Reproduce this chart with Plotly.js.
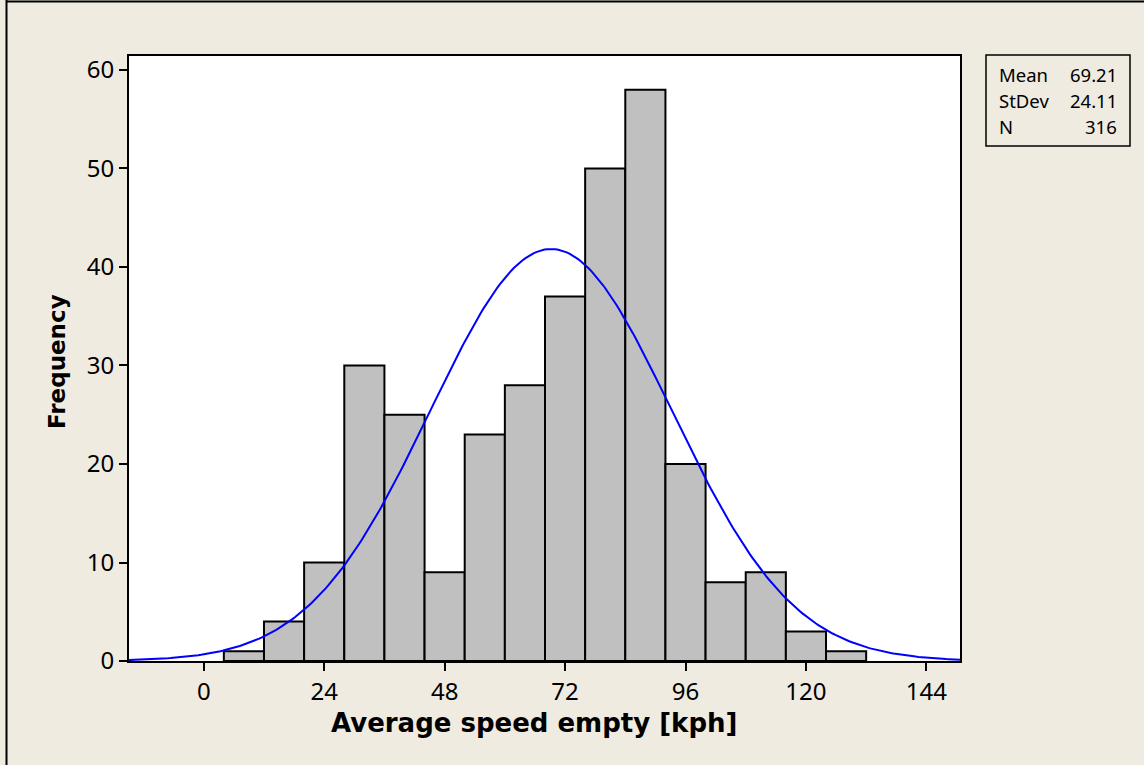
<!DOCTYPE html>
<html>
<head>
<meta charset="utf-8">
<script src="https://cdn.plot.ly/plotly-3.0.1.min.js"></script>
<style>
  html, body { margin: 0; padding: 0; background: #EFEBE1; }
  #chart { width: 1144px; height: 765px; }
</style>
</head>
<body>
<div id="chart"></div>
<script>
// Histogram bins (kph): bin centres, bin width 8
const binCenters = [8, 16, 24, 32, 40, 48, 56, 64, 72, 80, 88, 96, 104, 112, 120, 128];
const frequencies = [1, 4, 10, 30, 25, 9, 23, 28, 37, 50, 58, 20, 8, 9, 3, 1];
const binWidth = 8;

// Summary statistics shown in the box
const statLabels = ["Mean", "StDev", "N"];
const statValues = ["69.21", "24.11", "316"];
const meanVal = 69.21, sdVal = 24.11, nVal = 316;

// Axis ticks
const xTicks = [0, 24, 48, 72, 96, 120, 144];
const yTicks = [0, 10, 20, 30, 40, 50, 60];

// Fitted normal curve (scaled to counts) from the displayed Mean/StDev/N
const xRange = [-14.9, 150.7];
const curveX = [], curveY = [];
const steps = 300;
for (let i = 0; i <= steps; i++) {
  const x = xRange[0] + (xRange[1] - xRange[0]) * i / steps;
  const z = (x - meanVal) / sdVal;
  curveX.push(x);
  curveY.push(nVal * binWidth / (sdVal * Math.sqrt(2 * Math.PI)) * Math.exp(-0.5 * z * z));
}

const FONT = "'Noto Sans', 'Open Sans', 'DejaVu Sans', sans-serif";
const BFONT = "'DejaVu Sans', sans-serif";

const traces = [
  {
    type: "bar",
    x: binCenters,
    y: frequencies,
    width: binCenters.map(() => binWidth),
    marker: { color: "#C0C0C0", line: { color: "#000000", width: 2 } },
    hoverinfo: "x+y",
    showlegend: false
  },
  {
    type: "scatter",
    mode: "lines",
    x: curveX,
    y: curveY,
    line: { color: "#0000FF", width: 2 },
    hoverinfo: "skip",
    showlegend: false
  }
];

const px2x = p => (p - 129) / 831;
const px2y = p => 1 - (p - 56) / 605;

const annotations = [];
statLabels.forEach((lab, i) => {
  const ypx = 74 + i * 26; // centre of text row in pixels from top
  annotations.push({
    xref: "paper", yref: "paper",
    x: px2x(997), y: px2y(ypx),
    xanchor: "left", yanchor: "middle",
    text: lab, showarrow: false,
    font: { family: FONT, size: 18.5, color: "#000" }
  });
  annotations.push({
    xref: "paper", yref: "paper",
    x: px2x(1119), y: px2y(ypx),
    xanchor: "right", yanchor: "middle",
    text: statValues[i], showarrow: false,
    font: { family: FONT, size: 18.5, color: "#000" }
  });
});

// Axis titles
annotations.push({
  xref: "paper", yref: "paper", x: px2x(534), y: px2y(723),
  xanchor: "center", yanchor: "middle", showarrow: false,
  text: "<b>Average speed empty [kph]</b>",
  font: { family: BFONT, size: 26, color: "#000" }
});
annotations.push({
  xref: "paper", yref: "paper", x: px2x(57), y: px2y(362),
  xanchor: "center", yanchor: "middle", showarrow: false, textangle: -90,
  text: "<b>Frequency</b>",
  font: { family: BFONT, size: 23, color: "#000" }
});

const shapes = [
  // stats box
  { type: "rect", xref: "paper", yref: "paper",
    x0: px2x(986), x1: px2x(1130), y0: px2y(146), y1: px2y(55),
    line: { color: "#000", width: 1.5 }, fillcolor: "rgba(0,0,0,0)" },
  // outer frame (left and top edges)
  { type: "line", xref: "paper", yref: "paper",
    x0: px2x(6.5), x1: px2x(6.5), y0: px2y(0), y1: px2y(770),
    line: { color: "#000", width: 2 } },
  { type: "line", xref: "paper", yref: "paper",
    x0: px2x(6), x1: px2x(1150), y0: px2y(1.5), y1: px2y(1.5),
    line: { color: "#000", width: 2 } }
];

const layout = {
  width: 1144, height: 765,
  margin: { l: 129, r: 184, t: 56, b: 104, pad: 0 },
  paper_bgcolor: "#EFEBE1",
  plot_bgcolor: "#FFFFFF",
  bargap: 0,
  showlegend: false,
  xaxis: {
    range: xRange,
    tickmode: "array", tickvals: xTicks, ticktext: xTicks.map(String),
    ticks: "outside", ticklen: 8, tickwidth: 2, tickcolor: "#000",
    showgrid: false, zeroline: false,
    showline: true, linecolor: "#000", linewidth: 2, mirror: true,
    tickfont: { family: FONT, size: 24, color: "#000" }
  },
  yaxis: {
    range: [0, 61.42],
    tickmode: "array", tickvals: yTicks, ticktext: yTicks.map(String),
    ticks: "outside", ticklen: 8, tickwidth: 2, tickcolor: "#000",
    showgrid: false, zeroline: false,
    showline: true, linecolor: "#000", linewidth: 2, mirror: true,
    tickfont: { family: FONT, size: 24, color: "#000" }
  },
  annotations: annotations,
  shapes: shapes
};

Plotly.newPlot("chart", traces, layout, { displayModeBar: false, staticPlot: true });
</script>
</body>
</html>
